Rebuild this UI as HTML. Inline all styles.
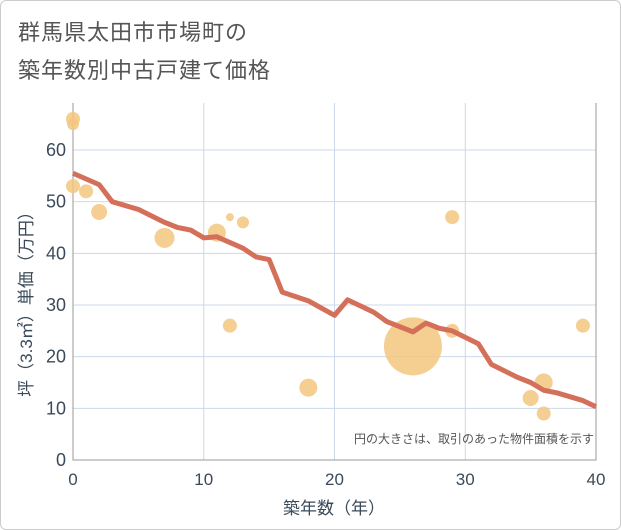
<!DOCTYPE html>
<html><head><meta charset="utf-8"><style>
body{margin:0;background:#fff;font-family:"Liberation Sans","Noto Sans CJK JP",sans-serif}
#wrap{position:relative;width:619px;height:528px;border:1px solid #ccc;border-radius:6px;overflow:hidden}
.t{position:absolute;left:17px;font-size:22px;color:#555;letter-spacing:1px}
</style></head><body>
<div id="wrap">
<div class="t" style="top:14px">群馬県太田市市場町の</div>
<div class="t" style="top:52px">築年数別中古戸建て価格</div>
<svg id="c" width="621" height="530" style="position:absolute;left:-1px;top:-1px"></svg>
</div>
<script>
const lineYears=[0,2,3,5,7,8,9,10,11,13,14,15,16,18,20,21,22,23,24,26,27,28,29,31,32,34,35,36,37,39,40];
const lineValues=[55.5,53.3,50,48.5,46,45,44.5,43,43.2,41,39.3,38.8,32.5,30.8,28,31,29.8,28.6,26.8,24.8,26.5,25.5,25,22.5,18.5,16,15,13.5,13,11.5,10.3];
const bubbleYears=[0,0,0,1,2,7,11,12,13,12,18,26,29,29,35,36,36,39];
const bubbleValues=[66,65,53,52,48,43,44,47,46,26,14,22,47,25,12,15,9,26];
const bubbleSizes=[7,6,7,7,8,10,9,4,6,7,9,29,7,7,8,9,7,7];
const xTicks=[0,10,20,30,40];
const yTicks=[0,10,20,30,40,50,60];
const ns="http://www.w3.org/2000/svg",svg=document.getElementById('c');
const X=v=>73+v*(596-73)/40, Y=v=>460-v*(460-150)/60;
function el(t,a,p){const e=document.createElementNS(ns,t);for(const k in a)e.setAttribute(k,a[k]);(p||svg).appendChild(e);return e;}
yTicks.forEach(v=>{const g=el('line',{x1:73,x2:596,y1:Y(v),y2:Y(v),stroke:'#ccd9e8','stroke-width':1});

const t=el('text',{x:66,y:Y(v)+6,'text-anchor':'end','font-size':18,fill:'#3a4a5a'});t.textContent=v;
});
xTicks.forEach(v=>{const g=el('line',{x1:X(v),x2:X(v),y1:103,y2:460,stroke:'#ccd9e8','stroke-width':1});

const t=el('text',{x:X(v),y:485,'text-anchor':'middle','font-size':17,fill:'#3a4a5a'});t.textContent=v;
});
const ax=el('path',{d:'M73 103V460H596V103',fill:'none',stroke:'#999','stroke-width':1});

bubbleYears.forEach((y,i)=>{const c=el('circle',{cx:X(y),cy:Y(bubbleValues[i]),r:bubbleSizes[i],fill:'#f3c57f','fill-opacity':0.85});
});
const ln=el('polyline',{points:lineYears.map((y,i)=>X(y)+','+Y(lineValues[i])).join(' '),fill:'none',stroke:'#d4705a','stroke-width':5,'stroke-linejoin':'round'});

const n=el('text',{x:594,y:443,'text-anchor':'end','font-size':12,fill:'#555'});n.textContent='円の大きさは、取引のあった物件面積を示す';

const xt=el('text',{x:334,y:514,'text-anchor':'middle','font-size':17,fill:'#3a4a5a'});xt.textContent='築年数（年）';

const yt=el('text',{x:0,y:0,'text-anchor':'middle','font-size':17,fill:'#3a4a5a',transform:'translate(32,300) rotate(-90)'});yt.textContent='坪（3.3㎡）単価（万円）';

</script>
</body></html>
